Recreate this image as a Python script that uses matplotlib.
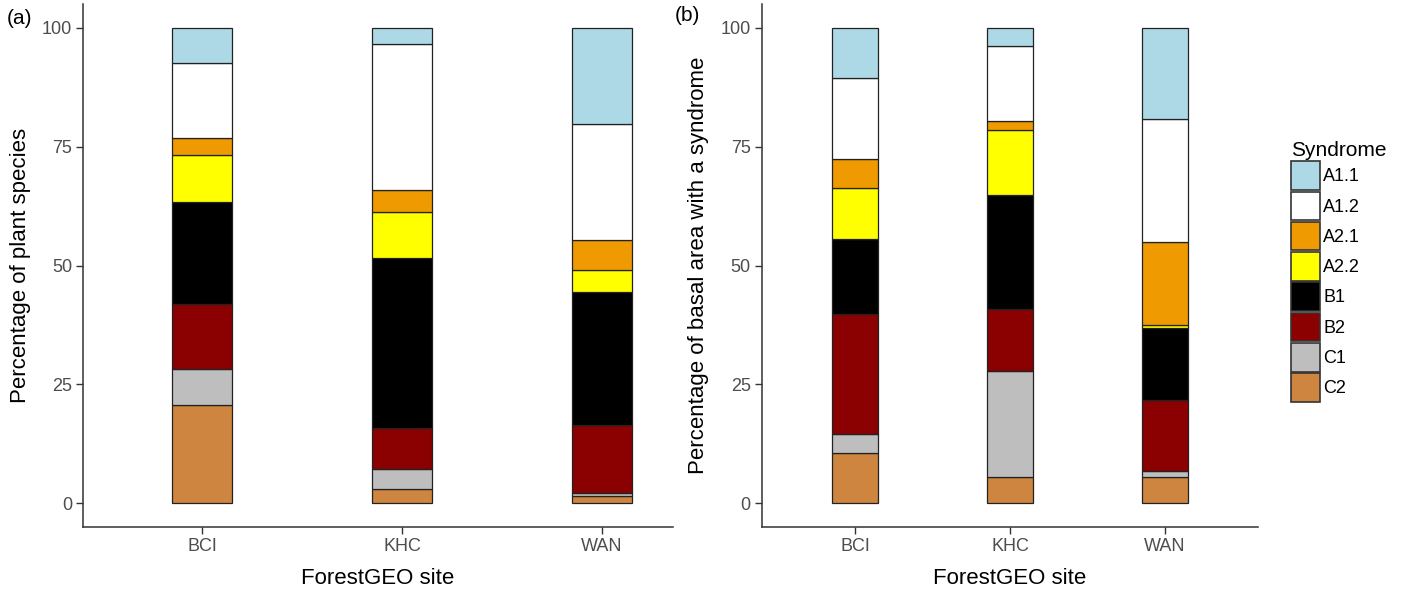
import matplotlib.pyplot as plt
from matplotlib.patches import Patch

plt.rcParams['font.family'] = ['Liberation Sans', 'DejaVu Sans']

sites = ['BCI', 'KHC', 'WAN']
syndromes = ['A1.1', 'A1.2', 'A2.1', 'A2.2', 'B1', 'B2', 'C1', 'C2']
colors = {
    'A1.1': '#ADD8E6', 'A1.2': '#FFFFFF', 'A2.1': '#EE9A00', 'A2.2': '#FFFF00',
    'B1': '#000000', 'B2': '#8B0000', 'C1': '#BEBEBE', 'C2': '#CD853F',
}

# percentages per site (BCI, KHC, WAN)
species = {
    'C2':   [20.7, 2.9, 1.5],
    'C1':   [7.5, 4.4, 0.7],
    'B2':   [13.6, 8.5, 14.2],
    'B1':   [21.6, 35.8, 28.0],
    'A2.2': [9.9, 9.7, 4.6],
    'A2.1': [3.5, 4.5, 6.3],
    'A1.2': [15.9, 30.8, 24.5],
    'A1.1': [7.3, 3.4, 20.2],
}
basal = {
    'C2':   [10.6, 5.5, 5.5],
    'C1':   [3.9, 22.3, 1.3],
    'B2':   [25.4, 13.0, 14.9],
    'B1':   [15.6, 24.0, 15.2],
    'A2.2': [10.8, 13.6, 0.6],
    'A2.1': [6.2, 1.9, 17.4],
    'A1.2': [16.9, 15.8, 26.0],
    'A1.1': [10.6, 3.9, 19.1],
}

GRID = '#333333'
TICK = '#4D4D4D'


def stackedBars(ax, data, ylabel, xlim):
    x = [1, 2, 3]
    bottom = [0, 0, 0]
    for s in reversed(syndromes):
        vals = data[s]
        ax.bar(x, vals, width=0.3, bottom=bottom, color=colors[s],
               edgecolor='#222222', linewidth=0.9)
        bottom = [b + v for b, v in zip(bottom, vals)]
    ax.set_xlim(*xlim)
    ax.set_ylim(-5, 105)
    ax.set_xticks(x)
    ax.set_xticklabels(sites)
    ax.set_yticks([0, 25, 50, 75, 100])
    for sp in ['top', 'right']:
        ax.spines[sp].set_visible(False)
    for sp in ['left', 'bottom']:
        ax.spines[sp].set_color(GRID)
        ax.spines[sp].set_linewidth(1.1)
    ax.tick_params(colors=GRID, labelcolor=TICK, labelsize=13, length=5,
                   width=1.0, pad=3)
    ax.set_xlabel('ForestGEO site', fontsize=16, labelpad=9)
    ax.set_ylabel(ylabel, fontsize=16, labelpad=8)


fig = plt.figure(figsize=(14.03, 5.92), dpi=100)
axA = fig.add_axes([0.0592, 0.1098, 0.4205, 0.8834])
axB = fig.add_axes([0.5431, 0.1098, 0.3535, 0.8834])

stackedBars(axA, species, 'Percentage of plant species', (0.403, 3.356))
stackedBars(axB, basal, 'Percentage of basal area with a syndrome', (0.4, 3.6))

fig.text(0.005, 0.968, '(a)', fontsize=15, va='center')
fig.text(0.481, 0.973, '(b)', fontsize=15, va='center')

handles = [Patch(facecolor=colors[s], edgecolor='#333333', linewidth=1.2, label=s)
           for s in syndromes]
leg = fig.legend(handles=handles, title='Syndrome', loc='upper left',
                 bbox_to_anchor=(0.911, 0.784), frameon=False, fontsize=13,
                 title_fontsize=15, handlelength=1.6, handleheight=2.05,
                 labelspacing=0.1, handletextpad=0.2, borderpad=0.2)
leg._legend_box.align = 'left'

fig.savefig('out.png', dpi=100)
